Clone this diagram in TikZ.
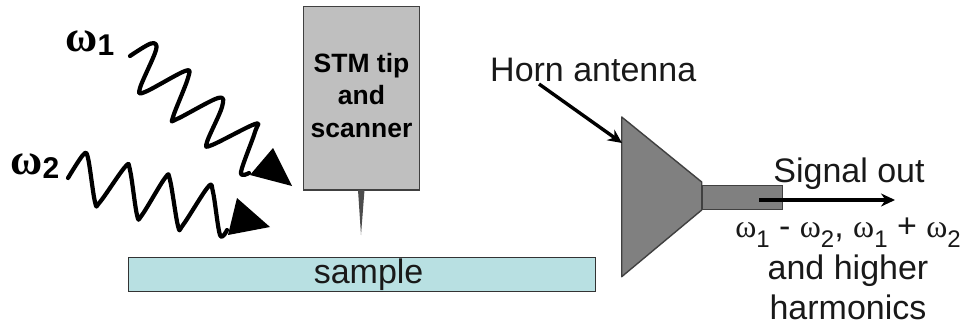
\documentclass[tikz,border=0pt]{standalone}
\usepackage{fontspec}
\setmainfont{Liberation Sans}
\newfontfamily\omfont{Liberation Serif}
\usetikzlibrary{arrows.meta}
\definecolor{samplefill}{RGB}{184,224,226}
\newcommand{\omb}[1]{{\fontsize{44}{46}\selectfont\omfont\bfseries ω}\raisebox{-0.42em}{\fontsize{30}{32}\selectfont\bfseries #1}}
\newcommand{\oms}[1]{{\fontsize{32}{34}\selectfont\omfont ω}\raisebox{-0.3em}{\fontsize{24}{28}\selectfont #1}}
\tikzset{
 lbl/.style={inner sep=0pt,font=\fontsize{34}{40}\selectfont,text=black!90},
 wave/.style={line width=4.2pt,black,line join=round,line cap=round},
 head/.style={fill=black,draw=none},
 outl/.style={draw=black!75,line width=1pt},
 arrowline/.style={line width=3.4pt,black,-{Stealth[length=14pt,width=13pt]}}
}
\begin{document}
\begin{tikzpicture}[x=1pt,y=-1pt]
\useasboundingbox (0,0) rectangle (968,327);
% STM
\node[outl,fill=black!25,minimum width=116pt,minimum height=183pt,inner sep=0pt,anchor=north west,align=center,
 font=\fontsize{26.5}{32.5}\selectfont\bfseries,text=black] (stm) at (303,6) {\raisebox{16pt}{\begin{tabular}{@{}c@{}}STM tip\\and\\scanner\end{tabular}}};
\draw[black!75,line width=2.6pt] (stm.south west) -- (stm.south east);
\fill[black!70] (358,190) -- (364.5,190) -- (361,235) -- cycle;
% sample
\node[draw=black!80,line width=1.2pt,fill=samplefill,minimum width=467pt,minimum height=34pt,inner sep=0pt,anchor=north west,lbl] (sample) at (128,257) {\hspace*{13pt}sample};
% horn
\fill[black!50] (621.7,117) -- (701.7,182) -- (701.7,210) -- (621.7,276.7) -- cycle;
\draw[outl,line join=round,line width=1.4pt] (621.7,117) -- (701.7,182) -- (701.7,210) -- (621.7,276.7) -- cycle;
\node[outl,fill=black!50,line width=1.2pt,minimum width=80pt,minimum height=24pt,inner sep=0pt,anchor=north west] (tube) at (702,185) {};
\coordinate (hornpt) at (622,143);
\node[lbl,anchor=west] (hornlbl) at (490,70) {Horn antenna};
\draw[arrowline] (539,84) -- (hornpt);
% signal
\coordinate (sigstart) at (759,200);
\coordinate (sigend) at (895,200);
\draw[arrowline] (sigstart) -- (sigend);
\node[lbl,anchor=center] (sig) at (849,174) {Signal out};
\node[inner sep=0pt,font=\fontsize{34}{36}\selectfont,text=black!90] (freq) at (848,233) {\oms{1} - \oms{2}, \oms{1} + \oms{2}};
\node[lbl,anchor=center] (and) at (848,271) {and higher};
\node[lbl,anchor=center] (harm) at (848,307) {harmonics};
% waves
\draw[wave] plot[smooth,tension=0.55] coordinates {(130,56) (151,43.5) (156,50) (140,88) (145,92) (185,71) (188,78) (173,117) (177,119) (218,98) (222,107) (207,142) (212,145) (255,124) (255,132) (241,172) (249,173)};
\fill[head] (273,148) -- (292,186) -- (250,175) -- cycle;
\draw[wave] plot[smooth,tension=0.55] coordinates {(68,178) (83,155) (88,158) (95,202) (100,202) (125,167) (130,170) (137,215) (142,215) (165,178) (170,180) (178,226) (183,225) (208,187) (213,192) (220,235) (227,230)};
\fill[head] (237,198) -- (270,227) -- (228,235) -- cycle;
\node[inner sep=0pt] (w1) at (90,43) {\omb{1}};
\node[inner sep=0pt] (w2) at (35,166) {\omb{2}};
\end{tikzpicture}
\end{document}
